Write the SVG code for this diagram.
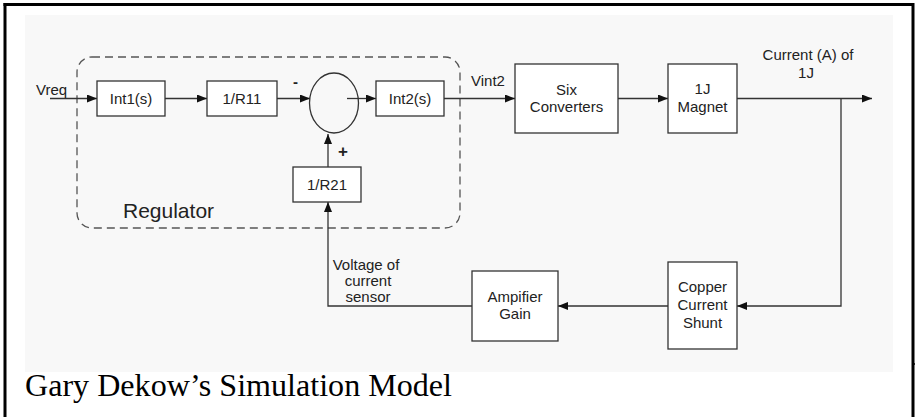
<svg xmlns="http://www.w3.org/2000/svg" width="915" height="417" viewBox="0 0 915 417">
<defs>
<marker id="ah" viewBox="0 0 10 8" refX="10" refY="4" markerWidth="10" markerHeight="8" markerUnits="userSpaceOnUse" orient="auto">
<path d="M0,0 L10,4 L0,8 Z" fill="#111"/>
</marker>
<style>
.box{fill:#fff;stroke:#333;stroke-width:1.3}
.ln{fill:none;stroke:#333;stroke-width:1.3}
.t{font-family:"Liberation Sans",Arial,sans-serif;font-size:15px;fill:#222}
.c{text-anchor:middle}
</style>
</defs>
<rect x="0" y="0" width="915" height="417" fill="#fff"/>
<rect x="25" y="15" width="868" height="357" fill="#f8f8f8"/>
<g id="frame" stroke="#000" stroke-width="3" fill="none">
<line x1="5" y1="3" x2="5" y2="417"/>
<line x1="3.5" y1="4.5" x2="914" y2="4.5"/>
<line x1="913" y1="3" x2="913" y2="417"/>
<line x1="913" y1="364" x2="915" y2="364" stroke-width="1.5"/>
</g>
<g id="regulator">
<rect x="77" y="57" width="383" height="171" rx="15" fill="none" stroke="#555" stroke-width="1.3" stroke-dasharray="8,5"/>
<text class="t" x="123" y="218" style="font-size:21px">Regulator</text>
</g>
<g id="connectors">
<line class="ln" x1="50" y1="98.5" x2="97" y2="98.5" marker-end="url(#ah)"/>
<line class="ln" x1="165" y1="98.5" x2="207" y2="98.5" marker-end="url(#ah)"/>
<line class="ln" x1="277" y1="98.5" x2="310" y2="98.5" marker-end="url(#ah)"/>
<line class="ln" x1="347" y1="98.5" x2="376" y2="98.5" marker-end="url(#ah)"/>
<line class="ln" x1="444" y1="98.5" x2="515" y2="98.5" marker-end="url(#ah)"/>
<line class="ln" x1="618" y1="98.5" x2="668" y2="98.5" marker-end="url(#ah)"/>
<line class="ln" x1="737" y1="98.5" x2="872" y2="98.5" marker-end="url(#ah)"/>
<polyline class="ln" points="841,98.5 841,306 737,306" marker-end="url(#ah)"/>
<line class="ln" x1="668" y1="306" x2="558" y2="306" marker-end="url(#ah)"/>
<polyline class="ln" points="472,306 328,306 328,202" marker-end="url(#ah)"/>
<line class="ln" x1="328" y1="167" x2="328" y2="134" marker-end="url(#ah)"/>
</g>
<g id="int1"><rect class="box" x="97" y="81" width="68" height="35"/><text class="t c" x="131" y="104">Int1(s)</text></g>
<g id="r11"><rect class="box" x="207" y="81" width="70" height="35"/><text class="t c" x="242" y="104">1/R11</text></g>
<g id="sum"><ellipse cx="334" cy="103" rx="24.5" ry="30" fill="none" stroke="#333" stroke-width="1.3"/>
<text class="t" x="293" y="87" style="font-weight:bold">-</text>
<text class="t c" x="343" y="157" style="font-weight:bold;font-size:17px">+</text></g>
<g id="int2"><rect class="box" x="376" y="81" width="68" height="35"/><text class="t c" x="410" y="104">Int2(s)</text></g>
<g id="r21"><rect class="box" x="293" y="167" width="68" height="35"/><text class="t c" x="327" y="190">1/R21</text></g>
<g id="six"><rect class="box" x="515" y="64" width="103" height="69"/><text class="t c" x="566.5" y="95">Six</text><text class="t c" x="566.5" y="112">Converters</text></g>
<g id="magnet"><rect class="box" x="668" y="64" width="69" height="69"/><text class="t c" x="702.5" y="94">1J</text><text class="t c" x="702.5" y="112">Magnet</text></g>
<g id="shunt"><rect class="box" x="668" y="262" width="69" height="87"/><text class="t c" x="702.5" y="292">Copper</text><text class="t c" x="702.5" y="310">Current</text><text class="t c" x="702.5" y="328">Shunt</text></g>
<g id="amp"><rect class="box" x="472" y="271" width="86" height="70"/><text class="t c" x="515" y="302">Ampifier</text><text class="t c" x="515" y="319">Gain</text></g>
<g id="labels">
<text class="t" x="36" y="95">Vreq</text>
<text class="t" x="471" y="86">Vint2</text>
<text class="t c" x="808" y="60">Current (A) of</text>
<text class="t c" x="806" y="78">1J</text>
<text class="t c" x="366" y="270">Voltage of</text>
<text class="t c" x="368" y="286">current</text>
<text class="t c" x="368" y="302">sensor</text>
</g>
<text x="25" y="396" font-family="'Liberation Serif','Times New Roman',serif" font-size="31" fill="#000" textLength="427" lengthAdjust="spacingAndGlyphs">Gary Dekow’s Simulation Model</text>
</svg>
